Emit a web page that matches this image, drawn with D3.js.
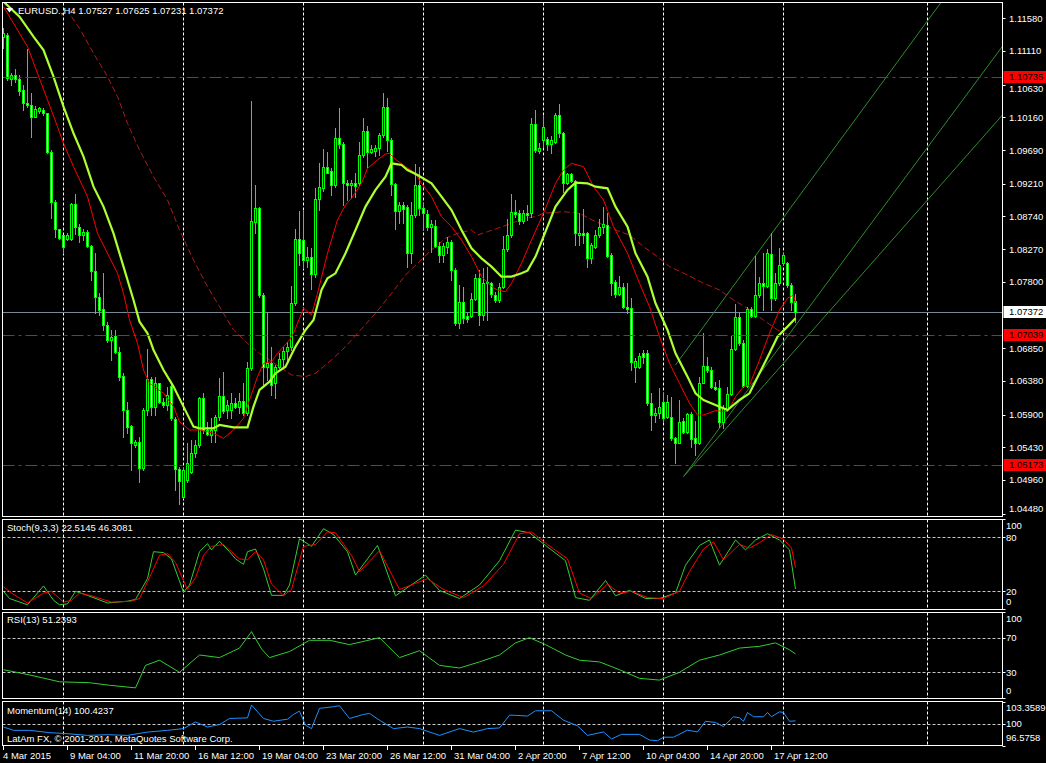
<!DOCTYPE html>
<html><head><meta charset="utf-8">
<script src="https://cdn.jsdelivr.net/npm/d3@7"></script>
<style>html,body{margin:0;padding:0;background:#000;overflow:hidden}svg{display:block}text{font-family:"Liberation Sans",Arial,sans-serif;font-size:9.5px;fill:#fff}</style>
</head><body><svg id="c" width="1046" height="763"></svg>
<script>
// ---- DATA ----
const symbolTitle = "EURUSD.,H4  1.07527 1.07625 1.07231 1.07372";
// [open, high, low, close] per H4 bar, from 4 Mar 2015 12:00
const ohlc = [
[1.11310,1.11437,1.11160,1.11365],[1.11341,1.11365,1.10696,1.10720],[1.10715,1.10801,1.10625,1.10763],[1.10763,1.10849,1.10672,1.10706],
[1.10706,1.10768,1.10481,1.10543],[1.10553,1.10625,1.10266,1.10362],[1.10362,1.11136,1.10314,1.10333],[1.10333,1.10515,1.09875,1.10171],
[1.10171,1.10324,1.10161,1.10285],[1.10257,1.10314,1.10219,1.10295],[1.10266,1.10295,1.10195,1.10219],[1.10219,1.10228,1.09655,1.09669],
[1.09669,1.09693,1.08713,1.08952],[1.08952,1.08976,1.08441,1.08556],[1.08556,1.08565,1.08422,1.08427],[1.08470,1.08475,1.08221,1.08298],
[1.08412,1.08498,1.08403,1.08470],[1.08412,1.08938,1.08403,1.08919],[1.08919,1.09062,1.08489,1.08584],[1.08584,1.08632,1.08369,1.08470],
[1.08470,1.08556,1.08403,1.08513],[1.08513,1.08546,1.08307,1.08322],[1.08322,1.08336,1.07830,1.07963],[1.07963,1.08212,1.07352,1.07581],
[1.07581,1.07638,1.07328,1.07399],[1.07409,1.07935,1.07113,1.07185],[1.07185,1.07232,1.06946,1.06970],[1.06970,1.07113,1.06683,1.07017],
[1.07027,1.07113,1.06778,1.06802],[1.06802,1.06874,1.06396,1.06444],[1.06453,1.06501,1.05584,1.05966],[1.05966,1.06085,1.05632,1.05727],
[1.05737,1.05751,1.05106,1.05488],[1.05464,1.05536,1.05440,1.05512],[1.05512,1.05584,1.04939,1.05130],[1.05130,1.05990,1.05106,1.05966],
[1.05966,1.06836,1.05894,1.06406],[1.06406,1.06444,1.05894,1.06004],[1.06004,1.06444,1.05894,1.06348],[1.06348,1.06358,1.06061,1.06085],
[1.06085,1.06133,1.06014,1.06038],[1.06038,1.06301,1.05966,1.06176],[1.06310,1.06348,1.05823,1.05847],[1.05832,1.05870,1.04819,1.05116],
[1.05116,1.05154,1.04619,1.04953],[1.04724,1.05130,1.04700,1.05106],[1.04963,1.05488,1.04939,1.05211],[1.05082,1.05536,1.05058,1.05355],
[1.05345,1.05536,1.05297,1.05464],[1.05464,1.06157,1.05440,1.06133],[1.06133,1.06205,1.05632,1.05679],[1.05679,1.05799,1.05608,1.05622],
[1.05608,1.05847,1.05512,1.05679],[1.05679,1.05894,1.05512,1.05870],[1.05870,1.06420,1.05823,1.06167],[1.06167,1.06516,1.05918,1.05957],
[1.05966,1.06110,1.05847,1.06038],[1.05966,1.06205,1.05847,1.06061],[1.06061,1.06133,1.05990,1.06004],[1.06004,1.06205,1.05918,1.06095],
[1.06095,1.06348,1.05894,1.05918],[1.05918,1.06659,1.05894,1.06563],[1.06563,1.10395,1.06539,1.08680],[1.08666,1.09191,1.08498,1.08857],
[1.08857,1.08881,1.07591,1.07614],[1.07614,1.07638,1.06301,1.06587],[1.06587,1.07376,1.06396,1.06635],[1.06635,1.06874,1.06181,1.06324],
[1.06348,1.06611,1.06133,1.06587],[1.06587,1.06778,1.06563,1.06692],[1.06692,1.06874,1.06587,1.06817],[1.06817,1.06946,1.06683,1.06874],
[1.06874,1.07743,1.06826,1.07495],[1.07495,1.08556,1.07471,1.08412],[1.08412,1.08823,1.08044,1.08212],[1.08403,1.08823,1.07997,1.08116],
[1.08116,1.08307,1.08021,1.08154],[1.08164,1.08283,1.07696,1.07916],[1.07916,1.09143,1.07877,1.08986],[1.08986,1.09511,1.08833,1.09158],
[1.09143,1.09702,1.09110,1.09444],[1.09444,1.09669,1.09358,1.09368],[1.09397,1.09430,1.09048,1.09191],[1.09191,1.10003,1.09167,1.09860],
[1.09860,1.10290,1.09717,1.09779],[1.09779,1.09812,1.08905,1.09225],[1.09225,1.09263,1.08976,1.09191],[1.09186,1.09263,1.09000,1.09225],
[1.09225,1.09368,1.09024,1.09177],[1.09225,1.09812,1.09191,1.09616],[1.09616,1.10156,1.09597,1.09965],[1.09965,1.10037,1.09454,1.09669],
[1.09669,1.09765,1.09645,1.09702],[1.09683,1.09760,1.09607,1.09717],[1.09717,1.09932,1.09621,1.09908],[1.09908,1.10515,1.09884,1.10314],
[1.10314,1.10433,1.09683,1.09836],[1.09836,1.09860,1.09048,1.09206],[1.09206,1.09225,1.08556,1.08823],[1.08823,1.08952,1.08642,1.08904],
[1.08904,1.08952,1.08651,1.08842],[1.08881,1.08904,1.08011,1.08212],[1.08212,1.08952,1.08068,1.08761],[1.08761,1.09492,1.08737,1.09191],
[1.09191,1.09454,1.08761,1.08857],[1.08857,1.08928,1.08546,1.08785],[1.08776,1.08833,1.08546,1.08594],[1.08594,1.08690,1.08236,1.08632],
[1.08604,1.08690,1.08307,1.08317],[1.08317,1.08379,1.08092,1.08188],[1.08188,1.08365,1.08092,1.08317],[1.08307,1.08451,1.08212,1.08379],
[1.08379,1.08403,1.07830,1.07973],[1.07973,1.07997,1.07184,1.07218],[1.07218,1.07758,1.07137,1.07519],[1.07519,1.07734,1.07208,1.07280],
[1.07314,1.07352,1.07232,1.07266],[1.07314,1.07638,1.07304,1.07552],[1.07552,1.07916,1.07543,1.07853],[1.07853,1.07973,1.07184,1.07328],
[1.07328,1.07997,1.07256,1.07791],[1.07782,1.08021,1.07256,1.07806],[1.07791,1.07806,1.07591,1.07629],[1.07614,1.07662,1.07519,1.07543],
[1.07543,1.07782,1.07519,1.07734],[1.07734,1.08460,1.07710,1.08269],[1.08269,1.08699,1.08250,1.08474],[1.08474,1.09062,1.08451,1.08809],
[1.08809,1.08976,1.08737,1.08776],[1.08785,1.08833,1.08632,1.08680],[1.08680,1.08833,1.08651,1.08785],[1.08785,1.08904,1.08690,1.08761],
[1.08785,1.10147,1.08737,1.10066],[1.10066,1.10266,1.09669,1.09693],[1.09683,1.09788,1.09645,1.09717],[1.09836,1.10180,1.09741,1.10018],
[1.09846,1.09884,1.09693,1.09779],[1.09779,1.09894,1.09655,1.09836],[1.09812,1.10219,1.09788,1.10195],[1.10195,1.10352,1.09884,1.09932],
[1.09932,1.09956,1.09096,1.09215],[1.09215,1.09368,1.09206,1.09349],[1.09349,1.09368,1.09239,1.09253],[1.09253,1.09263,1.08331,1.08498],
[1.08474,1.08785,1.08331,1.08498],[1.08498,1.08842,1.08355,1.08474],[1.08498,1.08522,1.08021,1.08140],[1.08140,1.08355,1.08068,1.08331],
[1.08307,1.08546,1.08283,1.08474],[1.08474,1.08699,1.08441,1.08584],[1.08584,1.08871,1.08498,1.08632],[1.08618,1.08785,1.08164,1.08174],
[1.08188,1.08212,1.07614,1.07791],[1.07806,1.07830,1.07591,1.07629],[1.07629,1.07887,1.07614,1.07734],[1.07734,1.07782,1.07423,1.07438],
[1.07447,1.07782,1.07352,1.07409],[1.07423,1.07567,1.06539,1.06659],[1.06578,1.06707,1.06372,1.06673],[1.06578,1.06778,1.06563,1.06740],
[1.06778,1.06826,1.06635,1.06730],[1.06778,1.06826,1.06038,1.06061],[1.06061,1.06214,1.05679,1.05894],[1.05894,1.05990,1.05799,1.05918],
[1.05918,1.06277,1.05847,1.06004],[1.06085,1.06214,1.05799,1.05847],[1.05870,1.06181,1.05847,1.06085],[1.05870,1.06157,1.05536,1.05560],
[1.05560,1.05584,1.05202,1.05488],[1.05498,1.06110,1.05488,1.05799],[1.05813,1.05847,1.05632,1.05656],[1.05656,1.05928,1.05632,1.05909],
[1.05909,1.05942,1.05440,1.05546],[1.05560,1.05813,1.05321,1.05488],[1.05488,1.06444,1.05479,1.06348],[1.06358,1.07065,1.06348,1.06597],
[1.06597,1.06731,1.06516,1.06540],[1.06540,1.06587,1.06277,1.06291],[1.06301,1.06372,1.06253,1.06262],[1.06277,1.06396,1.05727,1.05799],
[1.05799,1.06038,1.05703,1.05990],[1.05976,1.06291,1.05957,1.06195],[1.06195,1.07027,1.06181,1.06836],[1.06836,1.07485,1.06826,1.07304],
[1.07304,1.07361,1.06898,1.06922],[1.06922,1.06970,1.06301,1.06310],[1.06310,1.07447,1.06291,1.07409],[1.07409,1.07447,1.07304,1.07314],
[1.07314,1.08174,1.07294,1.07614],[1.07614,1.07877,1.07591,1.07782],[1.07782,1.08212,1.07399,1.07743],[1.07743,1.08269,1.07734,1.08212],
[1.08202,1.08498,1.07399,1.07567],[1.07567,1.07925,1.07543,1.07782],[1.07782,1.08283,1.07758,1.08044],[1.08068,1.08212,1.08044,1.08188],
[1.08068,1.08092,1.07734,1.07758],[1.07758,1.07782,1.07399,1.07519],[1.07527,1.07625,1.07231,1.07372]
];
// moving averages [bar, price]
const maSlow = [[0,1.1182],[4,1.11604],[7.5,1.11317],[10,1.11126],[12.5,1.10744],[15,1.10314],[17.5,1.09932],[20,1.09597],[22.5,1.09167],[25,1.08881],[27.5,1.08498],[30,1.08021],[32.5,1.07543],[34,1.07232],[36,1.07065],[37.5,1.06826],[40,1.06539],[42.5,1.06301],[45,1.06014],[47.5,1.05727],[49,1.05703],[52.5,1.05703],[54,1.05751],[57.5,1.05718],[61,1.05718],[62.5,1.06014],[64,1.06253],[66.5,1.06372],[68,1.06492],[70.5,1.06587],[73,1.06874],[75.5,1.07113],[77.5,1.07256],[79.5,1.07686],[81,1.07853],[83,1.07925],[85.5,1.08212],[88,1.08546],[90.5,1.08881],[93,1.09120],[95.5,1.09311],[97,1.09502],[99.5,1.09478],[101,1.09406],[103.5,1.09335],[107,1.09215],[109.5,1.09024],[112,1.08833],[114.5,1.08546],[117,1.08283],[119.5,1.08140],[122,1.08021],[124.5,1.07877],[127,1.07877],[129.5,1.07925],[131,1.07963],[133,1.08164],[135,1.08451],[138,1.08881],[141,1.09120],[143,1.09225],[146,1.09215],[148,1.09167],[151,1.09143],[153,1.08881],[156,1.08594],[158,1.08212],[161,1.07877],[163,1.07495],[166,1.07113],[168,1.06778],[171,1.06444],[173,1.06205],[175,1.06109],[178,1.06038],[181,1.05966],[184,1.06109],[186.5,1.06205],[189,1.06492],[191.5,1.06778],[193.5,1.07017],[196,1.07161],[198,1.07280]];
const maFast = [[0,1.11747],[2.5,1.11509],[6,1.11174],[8.5,1.10792],[11,1.10410],[13.5,1.10027],[15,1.09788],[17.5,1.09454],[21,1.09024],[23.5,1.08498],[26,1.08212],[28.5,1.07925],[30,1.07638],[31.5,1.07256],[33.5,1.06922],[35,1.06539],[36.5,1.06348],[40,1.06205],[42.5,1.06014],[44,1.05799],[46.5,1.05679],[49,1.05679],[52.5,1.05632],[55,1.05560],[57.5,1.05679],[60,1.05847],[61.5,1.06109],[63.5,1.06444],[65,1.06635],[67,1.06659],[68.5,1.06778],[71.5,1.06970],[72.5,1.07065],[75,1.07423],[77,1.07328],[78.5,1.07638],[81,1.08212],[83.5,1.08690],[85.5,1.08905],[87,1.09000],[89.5,1.09215],[91,1.09430],[93.5,1.09550],[95.5,1.09636],[96.5,1.09645],[98,1.09559],[100.5,1.09454],[103,1.09358],[104.5,1.09215],[107,1.09024],[109.5,1.08737],[112,1.08594],[114.5,1.08403],[117,1.08164],[119.5,1.07877],[122,1.07734],[123.5,1.07686],[125.5,1.07662],[127,1.07782],[129.5,1.08068],[132,1.08403],[135,1.08785],[138,1.09215],[140,1.09406],[142,1.09502],[145,1.09454],[147.5,1.09167],[150,1.08976],[152.5,1.08594],[156,1.08212],[159,1.07782],[161.5,1.07447],[164,1.07017],[166.5,1.06635],[169,1.06348],[171.5,1.06062],[173.5,1.05894],[175,1.05894],[178,1.05957],[181,1.05942],[183,1.06157],[185,1.06301],[186.5,1.06324],[189,1.06683],[191.5,1.07065],[194,1.07399],[196,1.07567],[197.5,1.07614],[198,1.0750]];
const maLong = [[17,1.11604],[19,1.11437],[22.5,1.11079],[26,1.10744],[28.5,1.10457],[31,1.10075],[34,1.09693],[37.5,1.09311],[41,1.08976],[44,1.08546],[47.5,1.08116],[51,1.07734],[54,1.07447],[57.5,1.07113],[61,1.06922],[64,1.06778],[66.5,1.06683],[72,1.06468],[75.5,1.06444],[78,1.06492],[82,1.06683],[85.5,1.06874],[88.5,1.07065],[93,1.07352],[97,1.07638],[100.5,1.07901],[103.5,1.08068],[107,1.08260],[110.5,1.08427],[113.5,1.08498],[117,1.08546],[118.5,1.08474],[121,1.08522],[123.5,1.08570],[127,1.08642],[130.5,1.08713],[133,1.08737],[135,1.08785],[140,1.08809],[144,1.08785],[148,1.08666],[153,1.08546],[156.5,1.08474],[160,1.08307],[163.5,1.08164],[166.5,1.08021],[171,1.07901],[175,1.07782],[179,1.07686],[182.5,1.07543],[186,1.07423],[190,1.07256],[193.5,1.07113],[197.5,1.07017]];
// channel trendlines [[bar, price],[bar, price]]
const trendLines = [[[168,1.06611],[240,1.12249]],[[170,1.0501],[249.75,1.1118]],[[170,1.0501],[249.75,1.10195]]];
const levelLines = [1.10735, 1.07039, 1.05173];
const bidPrice = 1.07372;
const priceTicks = [1.11580,1.11110,1.10630,1.10160,1.09690,1.09210,1.08740,1.08270,1.07800,1.06850,1.06380,1.05900,1.05430,1.04960,1.04480];
const gridBars = [15,45,75,105,135,165,195,231];
const timeLabels = [[0,"4 Mar 2015"],[16,"9 Mar 04:00"],[32,"11 Mar 20:00"],[48,"16 Mar 12:00"],[64,"19 Mar 04:00"],[80,"23 Mar 20:00"],[96,"26 Mar 12:00"],[112,"31 Mar 04:00"],[128,"2 Apr 20:00"],[144,"7 Apr 12:00"],[160,"10 Apr 04:00"],[176,"14 Apr 20:00"],[192,"17 Apr 12:00"]];
// Stochastic(9,3,3) [bar, value]
const stochMain = [[0,20],[1.5,12],[6,5],[10,26],[12.5,10],[14,5],[16,6],[18,20],[21,15.5],[26,7],[31,9],[33,11],[36,34],[37.5,64],[40,63],[42,56],[45,19],[46.5,27],[49,64],[51,73],[52,66],[54,75.6],[56.5,64],[58,56],[60,50],[61,64],[63,67],[65,45],[67,15.5],[70,15.5],[71.5,27],[74,78.5],[77,70],[80,89.6],[82.5,83],[86,64],[88,38],[93.5,71],[98,15],[105.5,38],[109,21],[114,12],[119,27],[124,54],[128,88],[131.5,85],[135.5,71],[140.5,54],[143,13],[146.5,10],[150.5,32],[153,15],[156.5,21],[160.5,12],[164,12],[168,18],[170.5,49],[174,71],[176.5,77],[179,49],[183,77],[185.5,66],[188,77],[191,84],[194,77],[196.5,66],[198,22.5145]];
const stochSignal = [[0,25],[2,18],[6,7],[10,18],[12,20],[15,8],[17,10],[19,18],[22,15],[27,8],[32,9],[34,12],[37,40],[39,60],[41,62],[43,52],[46,22],[48,35],[50,60],[52,70],[55,72],[57,64],[59,56],[61,55],[63,64],[65,55],[67,28],[70,15],[72,22],[75,70],[78,72],[81,86],[83,85],[87,60],[89,42],[94,65],[99,22],[106,34],[110,22],[115,13],[120,26],[125,50],[129,84],[132,86],[136,72],[141,56],[144,18],[147,12],[151,28],[154,18],[157,20],[161,13],[165,12],[169,20],[171.5,42],[175,67],[177.5,75],[180,55],[184,72],[186.5,68],[189,74],[192,83],[195,78],[197,68],[198,46.3081]];
// RSI(13)
const rsi = [[0,33],[6.5,27],[14,19],[21.5,18],[26.5,15],[33,12],[35.5,38],[39,44],[44,30],[49,50],[54,47],[59,58],[62,77],[64.5,57],[66.5,47],[71.5,54],[76.5,67],[81.5,67],[86.5,62],[94,70],[99,47],[104,55],[109,38],[114,35],[119,42],[124,50],[128,64],[131.5,70],[135.5,62],[140.5,50],[144,44],[149,42],[154,33],[159,23],[164,21],[169,30],[174,44],[179,50],[184,58],[189,60],[193,64],[196.5,56],[198,51.2393]];
// Momentum(14)
const momentum = [[0,99.46],[2.5,98.94],[6.5,98.94],[11.5,98.58],[16,98.42],[21,98.15],[26,98.26],[31,98.15],[36,98.67],[41,98.94],[45,99.21],[48,100.25],[51,99.46],[54,99.84],[56.5,100.79],[61,100.88],[62,102.89],[65,100.79],[67.5,100.36],[71,100.68],[72.5,101.42],[74,101.94],[75.5,99.73],[77,99.21],[79,102.37],[82.5,102.62],[84,102.78],[86.5,100.79],[90,101.42],[91.5,101.58],[94,100.52],[97.5,99.21],[101,99.46],[104,99.21],[109,98.15],[114,99.21],[117.5,98.67],[121,99.21],[124,99.31],[126.5,101.31],[128,101.28],[131,101.17],[133,101.99],[137,101.99],[140,100.52],[143.5,99.64],[146,98.15],[150,98.69],[152,97.60],[154.5,98.31],[159,98.31],[161.5,97.43],[163.5,97.32],[165,97.87],[167.5,97.87],[171,98.97],[173.5,98.69],[175.5,100.35],[178,100.17],[180,99.53],[182.5,101.06],[184,100.90],[185,100.35],[186,101.72],[187.5,101.06],[190,101.06],[191,101.72],[192,101.06],[194,101.83],[195,101.72],[196.5,100.35],[198,100.4237]];

// ---- LAYOUT ----
const W=1046,H=763,L=2.5,R=1002.5;
const P={main:[2.5,516.5],stoch:[519.5,609.5],rsi:[612.5,698.5],mom:[701.5,745.5]};
const svg=d3.select("#c");
svg.append("rect").attr("width",W).attr("height",H).attr("fill","#000");
const x=d3.scaleLinear().domain([0,249.75]).range([3.5,1002.5]);
const yP=d3.scaleLinear().domain([1.04439,1.11807]).range([516.5,2.5]);
const yS=d3.scaleLinear().domain([0,100]).range([609.3,519.3]);
const yR=d3.scaleLinear().domain([0,100]).range([698.25,611.75]);
const yM=d3.scaleLinear().domain([96.5758,103.3589]).range([745.5,702]);
const defs=svg.append("defs");
Object.entries(P).forEach(([k,[t,b]])=>{
  defs.append("clipPath").attr("id","clip-"+k).append("rect").attr("x",L+0.5).attr("y",t+0.5).attr("width",R-L-1).attr("height",b-t-1);
});
const g={};
Object.keys(P).forEach(k=>g[k]=svg.append("g").attr("clip-path","url(#clip-"+k+")"));

// vertical grid
Object.entries(P).forEach(([k,[t,b]])=>{
  g[k].selectAll("line.vg").data(gridBars).join("line").attr("class","vg")
   .attr("x1",d=>Math.floor(x(d))+0.5).attr("x2",d=>Math.floor(x(d))+0.5).attr("y1",t).attr("y2",b)
   .attr("stroke","#fff").attr("stroke-width",1).attr("stroke-dasharray","3,2");
});

const gm=g.main;
gm.append("line").attr("x1",L).attr("x2",R).attr("y1",Math.round(yP(bidPrice))+0.5).attr("y2",Math.round(yP(bidPrice))+0.5).attr("stroke","#778899");

const lineP=d3.line().x(d=>x(d[0])).y(d=>yP(d[1]));
gm.selectAll("path.tl").data(trendLines).join("path").attr("class","tl").attr("d",lineP)
  .attr("fill","none").attr("stroke","#2e8b2e").attr("stroke-width",1);

gm.append("path").datum(maLong).attr("d",lineP).attr("fill","none").attr("stroke","#b01a1a").attr("stroke-width",1).attr("stroke-dasharray","6,3");

// candles
const cg=gm.append("g");
ohlc.forEach((d,i)=>{
  const [o,h,l,c]=d, cx=x(i);
  cg.append("line").attr("x1",cx).attr("x2",cx).attr("y1",Math.round(yP(h))).attr("y2",Math.round(yP(l))+1).attr("stroke","#00ff00");
  const yt=Math.round(yP(Math.max(o,c))), yb=Math.round(yP(Math.min(o,c)));
  const hh=Math.max(1,yb-yt+1);
  cg.append("rect").attr("x",cx-1.5).attr("y",yt).attr("width",3).attr("height",hh).attr("fill","#00ff00");
  if(hh>2) cg.append("rect").attr("x",cx-0.5).attr("y",yt+1).attr("width",1).attr("height",hh-2).attr("fill",c<o?"#ffffff":"#000000");
});
gm.append("path").datum(maFast).attr("d",lineP).attr("fill","none").attr("stroke","#ff0000").attr("stroke-width",1);
gm.append("path").datum(maSlow).attr("d",lineP).attr("fill","none").attr("stroke","#adff2f").attr("stroke-width",2.2);

gm.selectAll("line.lv").data(levelLines).join("line").attr("class","lv")
  .attr("x1",L).attr("x2",R).attr("y1",d=>Math.round(yP(d))+0.5).attr("y2",d=>Math.round(yP(d))+0.5)
  .attr("stroke","#ff0000").attr("stroke-dasharray","12,4,3,4");

// Stochastic
[20,80].forEach(v=>g.stoch.append("line").attr("x1",L).attr("x2",R).attr("y1",Math.round(yS(v))+0.5).attr("y2",Math.round(yS(v))+0.5).attr("stroke","#c8c8c8").attr("stroke-dasharray","3,2"));
const lS=d3.line().x(d=>x(d[0])).y(d=>yS(d[1]));
g.stoch.append("path").datum(stochMain).attr("d",lS).attr("fill","none").attr("stroke","#32cd32");
g.stoch.append("path").datum(stochSignal).attr("d",lS).attr("fill","none").attr("stroke","#ff0000");
// RSI
[30,70].forEach(v=>g.rsi.append("line").attr("x1",L).attr("x2",R).attr("y1",Math.round(yR(v))+0.5).attr("y2",Math.round(yR(v))+0.5).attr("stroke","#c8c8c8").attr("stroke-dasharray","3,2"));
g.rsi.append("path").datum(rsi).attr("d",d3.line().x(d=>x(d[0])).y(d=>yR(d[1]))).attr("fill","none").attr("stroke","#32cd32");
// Momentum
g.mom.append("line").attr("x1",L).attr("x2",R).attr("y1",Math.round(yM(100))+0.5).attr("y2",Math.round(yM(100))+0.5).attr("stroke","#c8c8c8").attr("stroke-dasharray","3,2");
g.mom.append("path").datum(momentum).attr("d",d3.line().x(d=>x(d[0])).y(d=>yM(d[1]))).attr("fill","none").attr("stroke","#1e90ff");

// panel borders
Object.values(P).forEach(([t,b])=>svg.append("rect").attr("x",L).attr("y",t).attr("width",R-L).attr("height",b-t).attr("fill","none").attr("stroke","#fff"));

// right axis labels (kept clear of the price boxes)
const boxYs=levelLines.concat([bidPrice]).map(v=>yP(v));
const clampY=(y,t,b)=>Math.max(t+6.5,Math.min(b-7.5,y));
function axisLabels(vals,sc,[t,b],fmt,tx,avoid){
  vals.forEach(v=>{
    const y=sc(v); let yy=clampY(y,t,b);
    if(avoid) avoid.forEach(by=>{ if(Math.abs(yy-by)<11.5) yy = yy>by ? by+11.5 : by-11.5; });
    svg.append("line").attr("x1",R).attr("x2",R+3).attr("y1",Math.round(y)+0.5).attr("y2",Math.round(y)+0.5).attr("stroke","#fff");
    svg.append("text").attr("x",tx).attr("y",yy).attr("dy","0.35em").text(fmt(v));
  });
}
axisLabels(priceTicks,yP,P.main,v=>v.toFixed(5),1009,boxYs);
axisLabels([100,80,20,0],yS,P.stoch,v=>String(v),1006);
axisLabels([100,70,30,0],yR,P.rsi,v=>String(v),1006);
axisLabels([103.3589,100,96.5758],yM,P.mom,v=>String(v),1006);

// price boxes
function box(v,bg,fg){
  const y=Math.round(yP(v));
  svg.append("rect").attr("x",R+1).attr("y",y-6).attr("width",W-R-1).attr("height",12).attr("fill",bg);
  svg.append("text").attr("x",1009).attr("y",y).attr("dy","0.35em").style("fill",fg).text(v.toFixed(5));
}
levelLines.forEach(v=>box(v,"#ff0000","#000"));
box(bidPrice,"#ffffff","#000");

// time axis
timeLabels.forEach(([b,t])=>{
  const xx=Math.floor(x(b))+0.5;
  svg.append("line").attr("x1",xx).attr("x2",xx).attr("y1",746).attr("y2",750).attr("stroke","#fff");
  svg.append("text").attr("x",b===0?3:xx+2.5).attr("y",759).text(t);
});

// titles
svg.append("path").attr("d","M6,8 L13,8 L9.5,12.5 Z").attr("fill","#fff");
svg.append("text").attr("x",18).attr("y",14).text(symbolTitle);
svg.append("text").attr("x",7).attr("y",531).text("Stoch(9,3,3) 22.5145 46.3081");
svg.append("text").attr("x",7).attr("y",623).text("RSI(13) 51.2393");
svg.append("text").attr("x",7).attr("y",714).text("Momentum(14) 100.4237");
svg.append("text").attr("x",7).attr("y",741.5).text("LatAm FX, © 2001-2014, MetaQuotes Software Corp.");
</script></body></html>
